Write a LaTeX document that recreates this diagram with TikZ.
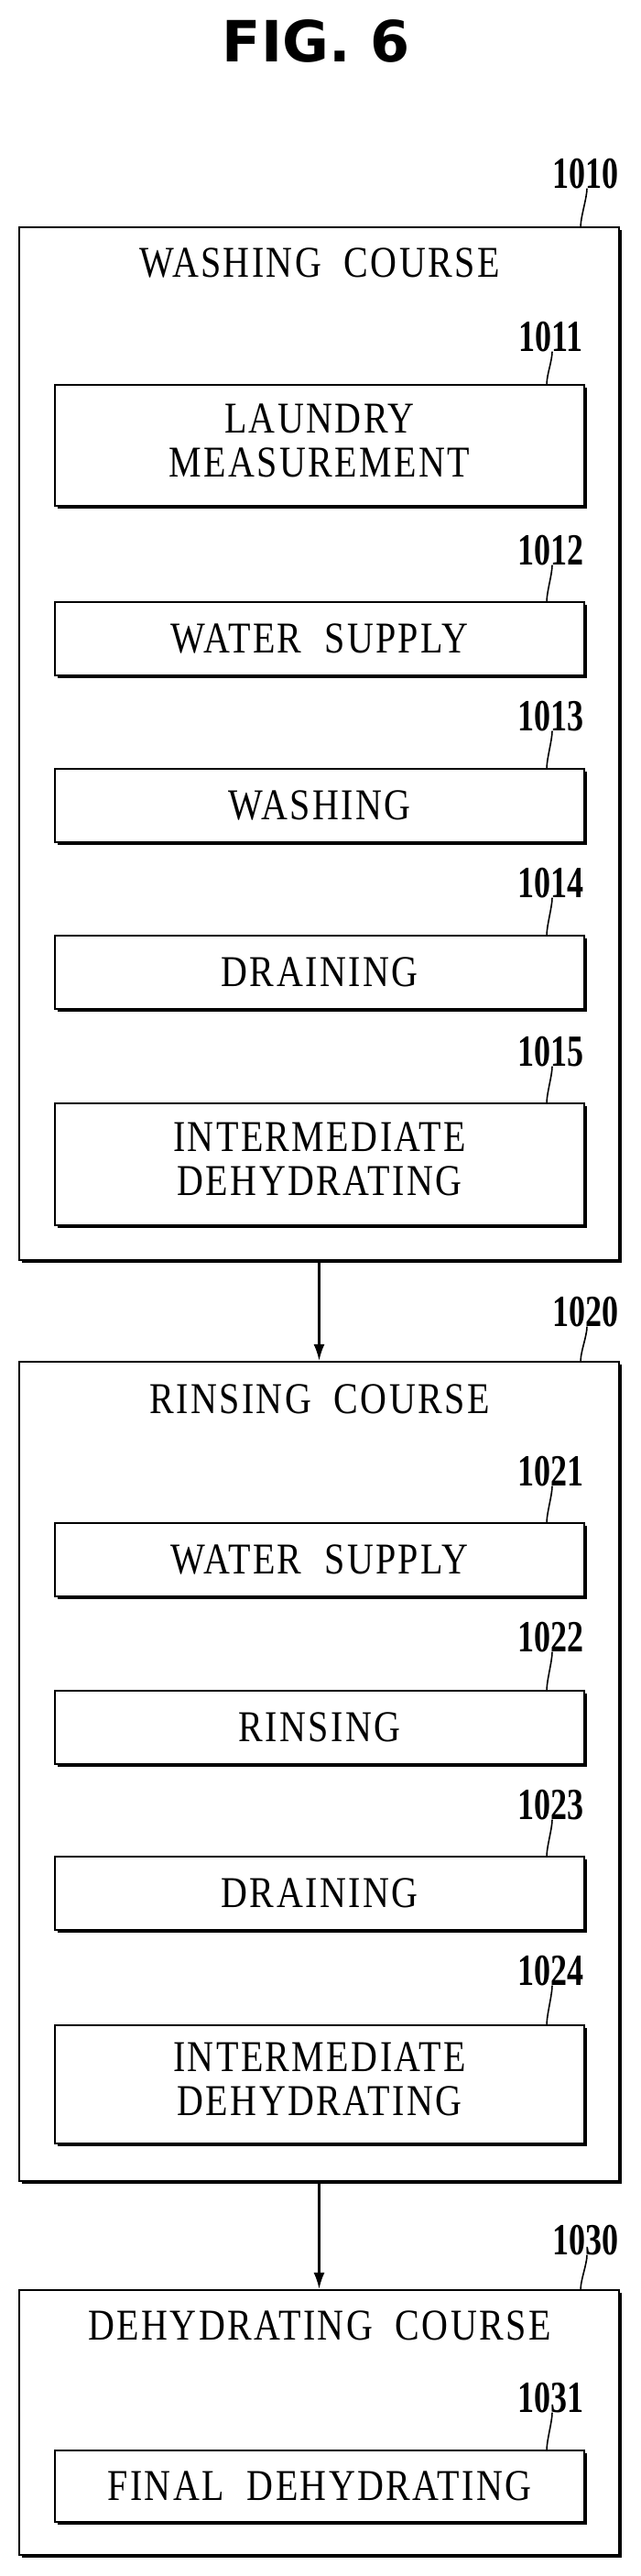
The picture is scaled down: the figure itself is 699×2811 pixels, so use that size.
\documentclass[tikz,border=0pt]{standalone}
\usepackage{fontspec}
\usepackage{graphicx}
\setmainfont{Liberation Serif}
\newfontfamily\figfont{DejaVu Sans}
\newfontfamily\capsfont[LetterSpace=6]{Liberation Serif}
\usetikzlibrary{shadows,arrows.meta}
\newcommand\tall[1]{\scalebox{1}[1.2]{#1}}
\newcommand\twolines[2]{\tall{\begin{tabular}{@{}c@{}}#1\\[-2pt]#2\end{tabular}}}
\newcommand\taller[1]{\scalebox{1}[1.35]{#1}}

\begin{document}
\begin{tikzpicture}[x=1pt,y=-1pt,
    course/.style={draw=black, line width=2.2pt, fill=white, minimum width=655pt, inner sep=0pt,
        drop shadow={shadow xshift=3pt, shadow yshift=-3pt, fill=black, opacity=1}},
    stepbox/.style={draw=black, line width=2.2pt, fill=white, minimum width=578pt, inner sep=0pt,
        align=center, font=\capsfont\fontsize{40}{42}\selectfont,
        drop shadow={shadow xshift=3pt, shadow yshift=-3pt, fill=black, opacity=1}},
    heading/.style={font=\capsfont\fontsize{40}{42}\selectfont},
    num/.style={font=\fontsize{36}{38}\selectfont\bfseries, inner sep=1pt},
    lead/.style={line width=1.6pt},
    flow/.style={line width=2.2pt, -{Latex[length=18pt,width=12pt]}}]
    \useasboundingbox (0,0) rectangle (699,2811);
    \node [font=\figfont\bfseries\fontsize{62}{64}\selectfont] (fig) at (345,45) {FIG. 6};
    % washing course
    \node [course, minimum height=1127pt] (c1010) at (348.5,811.5) {};
    \node [heading] (t1010) at (349,287) {\tall{WASHING\ \ COURSE}};
    \node [stepbox, minimum height=132pt] (s1011) at (349,486) {\twolines{LAUNDRY}{MEASUREMENT}};
    \node [stepbox, minimum height=80pt] (s1012) at (349,697) {\tall{WATER\ \ SUPPLY}};
    \node [stepbox, minimum height=80pt] (s1013) at (349,879) {\tall{WASHING}};
    \node [stepbox, minimum height=80pt] (s1014) at (349,1061) {\tall{DRAINING}};
    \node [stepbox, minimum height=133pt] (s1015) at (349,1270.5) {\twolines{INTERMEDIATE}{DEHYDRATING}};
    % rinsing course
    \node [course, minimum height=894pt] (c1020) at (348.5,1933) {};
    \node [heading] (t1020) at (349,1527) {\tall{RINSING\ \ COURSE}};
    \node [stepbox, minimum height=80pt] (s1021) at (349,1702) {\tall{WATER\ \ SUPPLY}};
    \node [stepbox, minimum height=80pt] (s1022) at (349,1885) {\tall{RINSING}};
    \node [stepbox, minimum height=80pt] (s1023) at (349,2066) {\tall{DRAINING}};
    \node [stepbox, minimum height=129pt] (s1024) at (349,2274.5) {\twolines{INTERMEDIATE}{DEHYDRATING}};
    % dehydrating course
    \node [course, minimum height=289pt] (c1030) at (348.5,2643.5) {};
    \node [heading] (t1030) at (349,2538) {\tall{DEHYDRATING\ \ COURSE}};
    \node [stepbox, minimum height=78pt] (s1031) at (349,2713) {\tall{FINAL\ \ DEHYDRATING}};
    % reference numerals
    \node [num] (l1010) at (639,190) {\taller{1010}};
    \node [num] (l1011) at (601,368) {\taller{1011}};
    \node [num] (l1012) at (601,601) {\taller{1012}};
    \node [num] (l1013) at (601,782) {\taller{1013}};
    \node [num] (l1014) at (601,964) {\taller{1014}};
    \node [num] (l1015) at (601,1148) {\taller{1015}};
    \node [num] (l1020) at (639,1432) {\taller{1020}};
    \node [num] (l1021) at (601,1606) {\taller{1021}};
    \node [num] (l1022) at (601,1787) {\taller{1022}};
    \node [num] (l1023) at (601,1970) {\taller{1023}};
    \node [num] (l1024) at (601,2151) {\taller{1024}};
    \node [num] (l1030) at (639,2445) {\taller{1030}};
    \node [num] (l1031) at (601,2617) {\taller{1031}};
    \foreach \c in {1010,1020,1030}
        \draw [lead] ([xshift=-43pt]c\c.north east) .. controls +(0,-10) and +(0,10) .. ([xshift=2pt,yshift=2pt]l\c.south);
    \foreach \s in {1011,1012,1013,1014,1015,1021,1022,1023,1024,1031}
        \draw [lead] ([xshift=-42pt]s\s.north east) .. controls +(0,-10) and +(0,10) .. ([xshift=2pt,yshift=2pt]l\s.south);
    % flow
    \draw [flow] (c1010.south) -- (c1020.north);
    \draw [flow] (c1020.south) -- (c1030.north);
\end{tikzpicture}
\end{document}
